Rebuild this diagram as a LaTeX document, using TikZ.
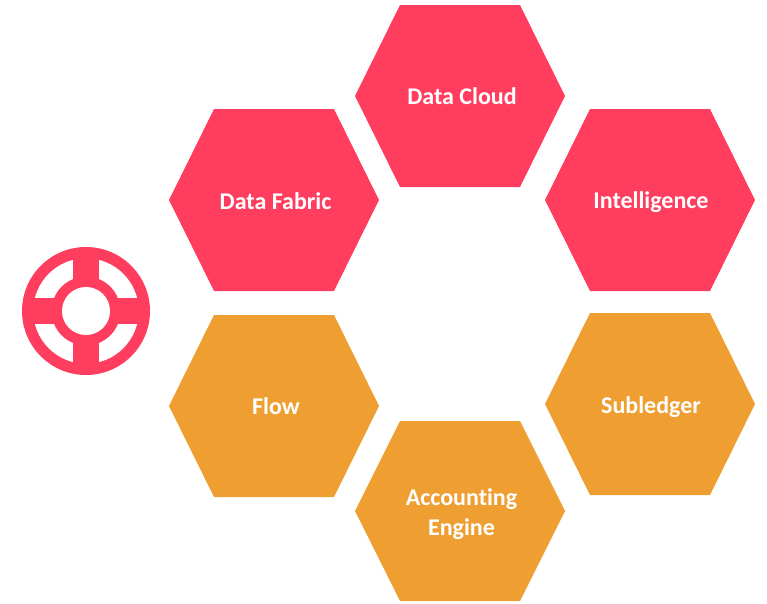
\documentclass[tikz,border=0pt]{standalone}
\usepackage{fontspec}
\setmainfont{Carlito}[Ligatures=NoCommon]
\definecolor{cellred}{HTML}{FF3E5F}
\definecolor{cellorange}{HTML}{EF9F31}
\tikzset{
    celltext/.style={text=white, font=\fontsize{18}{22.5}\selectfont\bfseries, align=center, inner sep=0pt},
}
\begin{document}
\begin{tikzpicture}[x=0.75pt, y=-0.75pt]
    \useasboundingbox (0,0) rectangle (767,603);
    % hexagon cells: x / y / half height / colour / name / label x / label y / text
    \foreach \x/\y/\h/\c/\n/\lx/\ly/\t in {
        460/96/91/cellred/cloud/462/96/{Data Cloud},
        650/200/91/cellred/intel/651/202/{Intelligence},
        274/200/91/cellred/fabric/275.5/201/{Data Fabric},
        274/406/91/cellorange/flow/276/406/{Flow},
        650/404/91/cellorange/subl/651/407/{Subledger},
        460/511/90/cellorange/acct/461.5/514/{Accounting\\Engine}} {
        \fill[\c] (\x-105,\y) -- (\x-60,\y-\h) -- (\x+60,\y-\h) -- (\x+105,\y)
            -- (\x+60,\y+\h) -- (\x-60,\y+\h) -- cycle;
        \node[celltext] (\n) at (\lx,\ly) {\t};
    }
    % ring icon
    \coordinate (ring) at (86,311);
    \fill[cellred] (ring) circle (64);
    \fill[white] (ring) circle (52.7);
    \fill[cellred] (ring) circle (34.4);
    \fill[cellred] (72.7,250) rectangle (99.3,372);
    \fill[cellred] (25,297.7) rectangle (147,324.3);
    \fill[white] (ring) circle (24);
\end{tikzpicture}
\end{document}
